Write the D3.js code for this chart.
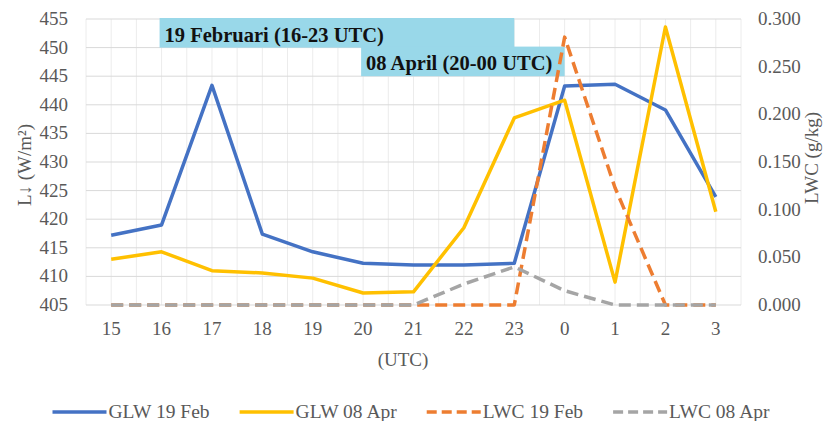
<!DOCTYPE html>
<html>
<head>
<meta charset="utf-8">
<script src="https://cdn.jsdelivr.net/npm/d3@7"></script>
<style>
  body { margin: 0; background: #ffffff; }
  svg { display: block; }
</style>
</head>
<body>
<div id="chart-container"></div>
<script>
// hours along the x axis
const hours = ["15", "16", "17", "18", "19", "20", "21", "22", "23", "0", "1", "2", "3"];

// downward longwave (W/m2), left axis
const glwFeb = [417.2, 419.0, 443.4, 417.4, 414.3, 412.3, 412.0, 412.0, 412.3, 443.3, 443.6, 439.1, 423.9];
const glwApr = [413.0, 414.3, 411.0, 410.6, 409.7, 407.1, 407.3, 418.5, 437.7, 440.8, 409.0, 453.6, 421.3];

// liquid water content (g/kg), right axis
const lwcFeb = [0, 0, 0, 0, 0, 0, 0, 0, 0, 0.281, 0.123, 0, 0];
const lwcApr = [0, 0, 0, 0, 0, 0, 0, 0.022, 0.040, 0.015, 0, 0, 0];

const leftTicks = [405, 410, 415, 420, 425, 430, 435, 440, 445, 450, 455];
const rightTicks = [0, 0.05, 0.1, 0.15, 0.2, 0.25, 0.3];

const seriesNames = ["GLW 19 Feb", "GLW 08 Apr", "LWC 19 Feb", "LWC 08 Apr"];

// shaded period labels: [text, from hour, to hour, top value, bottom value]
const periods = [
    ["19 Februari (16-23 UTC)", "16", "23", 455, 450],
    ["08 April (20-00 UTC)", "20", "0", 450, 445]
];

const width = 826, height = 421;
const plotLeft = 86, plotRight = 741, plotTop = 19, plotBottom = 305;
const fontFamily = "'Liberation Serif', 'Times New Roman', serif";
const textColor = "#595959";

const svg = d3.select("#chart-container").append("svg")
    .attr("width", width)
    .attr("height", height);

const x = d3.scalePoint()
    .domain(hours)
    .range([plotLeft, plotRight])
    .padding(0.5);

const yLeft = d3.scaleLinear().domain([405, 455]).range([plotBottom, plotTop]);
const yRight = d3.scaleLinear().domain([0, 0.3]).range([plotBottom, plotTop]);

// vertical grid, at each hour and halfway between
const step = x.step();
const vLines = [];
hours.forEach(h => { vLines.push(x(h) - step / 2); vLines.push(x(h)); });
vLines.push(x(hours[hours.length - 1]) + step / 2);

svg.append("g")
    .selectAll("line")
    .data(vLines)
    .enter()
    .append("line")
      .attr("x1", d => d)
      .attr("x2", d => d)
      .attr("y1", plotTop)
      .attr("y2", plotBottom)
      .attr("stroke", "#ececec")
      .attr("stroke-width", 1);

// horizontal grid
svg.append("g")
    .selectAll("line")
    .data(leftTicks)
    .enter()
    .append("line")
      .attr("x1", plotLeft)
      .attr("x2", plotRight)
      .attr("y1", d => yLeft(d))
      .attr("y2", d => yLeft(d))
      .attr("stroke", "#d9d9d9")
      .attr("stroke-width", 1);

// period boxes
periods.forEach(p => {
    const x0 = x(p[1]) - 2, x1 = x(p[2]);
    const y0 = yLeft(p[3]) - 1, y1 = yLeft(p[4]);
    svg.append("rect")
        .attr("x", x0)
        .attr("y", y0)
        .attr("width", x1 - x0)
        .attr("height", y1 - y0)
        .attr("fill", "#99d8e9");
    svg.append("text")
        .attr("x", x0 + 5)
        .attr("y", y1 - 6)
        .attr("fill", "#111111")
        .style("font-family", fontFamily)
        .style("font-weight", "bold")
        .style("font-size", "20.5px")
        .text(p[0]);
});

// left axis labels
svg.append("g")
    .selectAll("text")
    .data(leftTicks)
    .enter()
    .append("text")
      .attr("x", 68)
      .attr("y", d => yLeft(d) + 6)
      .attr("fill", textColor)
      .style("text-anchor", "end")
      .style("font-family", fontFamily)
      .style("font-size", "19px")
      .text(d => d);

// right axis labels
svg.append("g")
    .selectAll("text")
    .data(rightTicks)
    .enter()
    .append("text")
      .attr("x", 758)
      .attr("y", d => yRight(d) + 6)
      .attr("fill", textColor)
      .style("font-family", fontFamily)
      .style("font-size", "19px")
      .text(d => d3.format(".3f")(d));

// x axis labels
svg.append("g")
    .selectAll("text")
    .data(hours)
    .enter()
    .append("text")
      .attr("x", d => x(d))
      .attr("y", 335)
      .attr("fill", textColor)
      .style("text-anchor", "middle")
      .style("font-family", fontFamily)
      .style("font-size", "19px")
      .text(d => d);

// axis titles
svg.append("text")
    .attr("x", 403)
    .attr("y", 366)
    .attr("fill", textColor)
    .style("text-anchor", "middle")
    .style("font-family", fontFamily)
    .style("font-size", "19px")
    .text("(UTC)");

svg.append("text")
    .attr("transform", "translate(31,165) rotate(-90)")
    .attr("fill", textColor)
    .style("text-anchor", "middle")
    .style("font-family", fontFamily)
    .style("font-size", "19px")
    .text("L↓ (W/m²)");

svg.append("text")
    .attr("transform", "translate(818,158) rotate(-90)")
    .attr("fill", textColor)
    .style("text-anchor", "middle")
    .style("font-family", fontFamily)
    .style("font-size", "19px")
    .text("LWC (g/kg)");

// series lines
const series = [
    { name: seriesNames[0], values: glwFeb, y: yLeft, color: "#4472c4", dash: null },
    { name: seriesNames[1], values: glwApr, y: yLeft, color: "#ffc000", dash: null },
    { name: seriesNames[2], values: lwcFeb, y: yRight, color: "#ed7d31", dash: "12,6" },
    { name: seriesNames[3], values: lwcApr, y: yRight, color: "#a5a5a5", dash: "12,6" }
];

series.forEach(s => {
    svg.append("path")
        .datum(s.values)
        .attr("fill", "none")
        .attr("stroke", s.color)
        .attr("stroke-width", 3.5)
        .attr("stroke-linejoin", "round")
        .attr("stroke-dasharray", s.dash)
        .attr("d", d3.line()
            .x((d, i) => x(hours[i]))
            .y(d => s.y(d))
        );
});

// legend, centered under the chart
const legend = svg.append("g");
const itemGap = 30;
let lx = 0;
series.forEach(s => {
    const item = legend.append("g").attr("transform", `translate(${lx},0)`);
    item.append("line")
        .attr("x1", 0)
        .attr("x2", 54)
        .attr("y1", 0)
        .attr("y2", 0)
        .attr("stroke", s.color)
        .attr("stroke-width", 3.5)
        .attr("stroke-dasharray", s.dash ? "10,5" : null);
    const t = item.append("text")
        .attr("x", 56)
        .attr("y", 6)
        .attr("fill", textColor)
        .style("font-family", fontFamily)
        .style("font-size", "19.5px")
        .text(s.name);
    lx += 56 + t.node().getComputedTextLength() + itemGap;
});
lx -= itemGap;
legend.attr("transform", `translate(${411 - lx / 2},412)`);
</script>
</body>
</html>
